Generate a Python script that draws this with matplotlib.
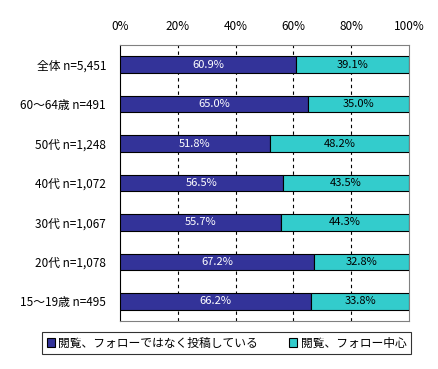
import numpy as np
import matplotlib.pyplot as plt

plt.rcParams['font.family'] = ['Noto Sans CJK JP', 'DejaVu Sans']

categories = ['全体 n=5,451', '60～64歳 n=491', '50代 n=1,248', '40代 n=1,072',
              '30代 n=1,067', '20代 n=1,078', '15～19歳 n=495']
posting = [60.9, 65.0, 51.8, 56.5, 55.7, 67.2, 66.2]
browsing = [39.1, 35.0, 48.2, 43.5, 44.3, 32.8, 33.8]
series_names = ['閲覧、フォローではなく投稿している', '閲覧、フォロー中心']
colors = ['#333399', '#33CCCC']

fig = plt.figure(figsize=(4.38, 3.69), dpi=100)
ax = fig.add_axes([120/438, 1-321/369, 289/438, 276/369])

y = np.arange(len(categories))
b1 = ax.barh(y, posting, height=0.42, color=colors[0], edgecolor='black', linewidth=0.8,
             label=series_names[0], zorder=3)
b2 = ax.barh(y, browsing, left=posting, height=0.42, color=colors[1], edgecolor='black',
             linewidth=0.8, label=series_names[1], zorder=3)

for i in range(len(categories)):
    ax.text(posting[i] / 2, y[i], f'{posting[i]:.1f}%', ha='center', va='center',
            color='white', fontsize=8, zorder=4)
    ax.text(posting[i] + browsing[i] / 2, y[i], f'{browsing[i]:.1f}%', ha='center',
            va='center', color='black', fontsize=8, zorder=4)

ax.set_xlim(0, 100)
ax.set_ylim(6.5, -0.5)
ax.set_xticks([0, 20, 40, 60, 80, 100])
ax.set_xticklabels([f'{v}%' for v in [0, 20, 40, 60, 80, 100]])
ax.xaxis.tick_top()
ax.tick_params(axis='x', length=0, pad=9, labelsize=8.5)
ax.set_yticks(y)
ax.set_yticklabels(categories)
ax.tick_params(axis='y', length=0, pad=10, labelsize=8.5)

for v in [20, 40, 60, 80]:
    ax.axvline(v, color='black', linestyle=(0, (3, 3)), linewidth=0.8, zorder=1)

ax.spines['left'].set_color('black')
for s in ['top', 'right', 'bottom']:
    ax.spines[s].set_color('#808080')

leg = fig.legend(handles=[b1, b2], loc='center', bbox_to_anchor=((45 + 408) / 2 / 438, 1 - 343 / 369),
                 ncol=2, fontsize=8.5, frameon=True, fancybox=False, edgecolor='black',
                 handlelength=0.7, handleheight=0.7, handletextpad=0.3, columnspacing=2.6,
                 borderpad=0.35)
leg.get_frame().set_linewidth(0.8)

fig.savefig('out.png', dpi=100)
